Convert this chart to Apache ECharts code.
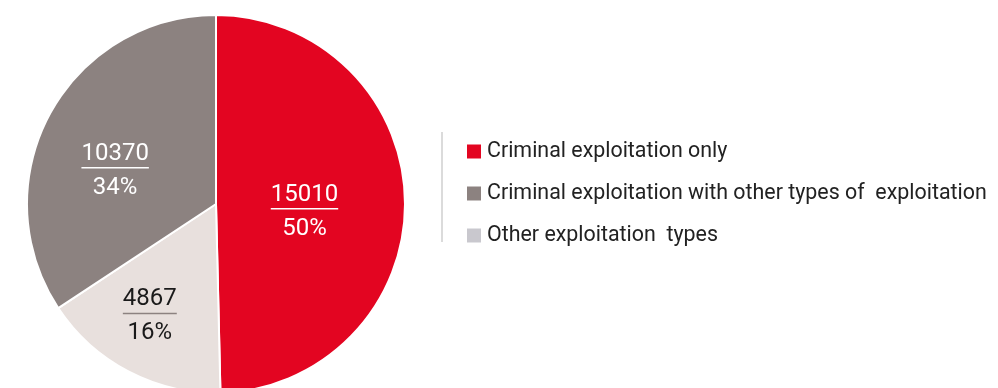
<!DOCTYPE html>
<html>
<head>
<meta charset="utf-8">
<script src="https://cdn.jsdelivr.net/npm/echarts@6/dist/echarts.min.js"></script>
<style>
  html, body { margin: 0; padding: 0; background: #fff; }
  #pie-echar { width: 998px; height: 388px; }
</style>
</head>
<body>
<div id="pie-echar"></div>
<script>
// data (legend order)
var categories = ['Criminal exploitation only', 'Criminal exploitation with other types of  exploitation', 'Other exploitation  types'];
var values = [15010, 10370, 4867];
var percents = ['50%', '34%', '16%'];
var sliceColors = ['#E30521', '#8C8280', '#E8E0DD'];
var legendColors = ['#E30521', '#8C8280', '#C9C8CE'];
// slices go clockwise from 12 o'clock in this order
var sliceOrder = [0, 2, 1];
// label nudges (px) so the text sits like the original
var labelOffsets = [[-9, 12], [-15, 16], [-21, 29]];
var labelDark = [false, false, true];

var pieChart = echarts.init(document.getElementById('pie-echar'), null, {renderer: 'canvas'});

var seriesData = [];
for (var k = 0; k < sliceOrder.length; k++) {
  var i = sliceOrder[k];
  var dark = labelDark[i];
  seriesData.push({
    name: categories[i],
    value: values[i],
    itemStyle: {color: sliceColors[i]},
    label: {
      offset: labelOffsets[i],
      formatter: '{v|' + values[i] + '}\n{hr|}\n{p|' + percents[i] + '}',
      rich: {
        v: {fontSize: 24, fontFamily: 'Roboto', color: dark ? '#1a1a1a' : '#fff', lineHeight: 28, align: 'center'},
        hr: {borderColor: dark ? '#8C8280' : '#fff', borderWidth: 1.5, width: '100%', height: 0, align: 'left'},
        p: {fontSize: 24, fontFamily: 'Roboto', color: dark ? '#1a1a1a' : '#fff', lineHeight: 40, align: 'center'}
      }
    }
  });
}

var legendData = [];
for (var j = 0; j < categories.length; j++) {
  legendData.push({name: categories[j], itemStyle: {color: legendColors[j]}});
}

var option = {
  animation: false,
  legend: {
    orient: 'vertical',
    left: 465,
    top: 141,
    padding: 0,
    itemWidth: 16,
    itemHeight: 16,
    itemGap: 21,
    icon: 'rect',
    selectedMode: false,
    data: legendData,
    textStyle: {
      fontFamily: 'Roboto',
      fontSize: 21.4,
      color: '#222'
    }
  },
  graphic: [
    {
      type: 'line',
      shape: {x1: 442, y1: 132, x2: 442, y2: 242},
      style: {stroke: '#cfcfcf', lineWidth: 1.5}
    }
  ],
  series: [
    {
      type: 'pie',
      center: [216, 204],
      radius: [0, 189],
      startAngle: 90,
      clockwise: true,
      silent: true,
      itemStyle: {borderColor: '#fff', borderWidth: 2},
      label: {show: true, position: 'inside'},
      labelLine: {show: false},
      data: seriesData
    }
  ]
};
pieChart.setOption(option);
</script>
</body>
</html>
